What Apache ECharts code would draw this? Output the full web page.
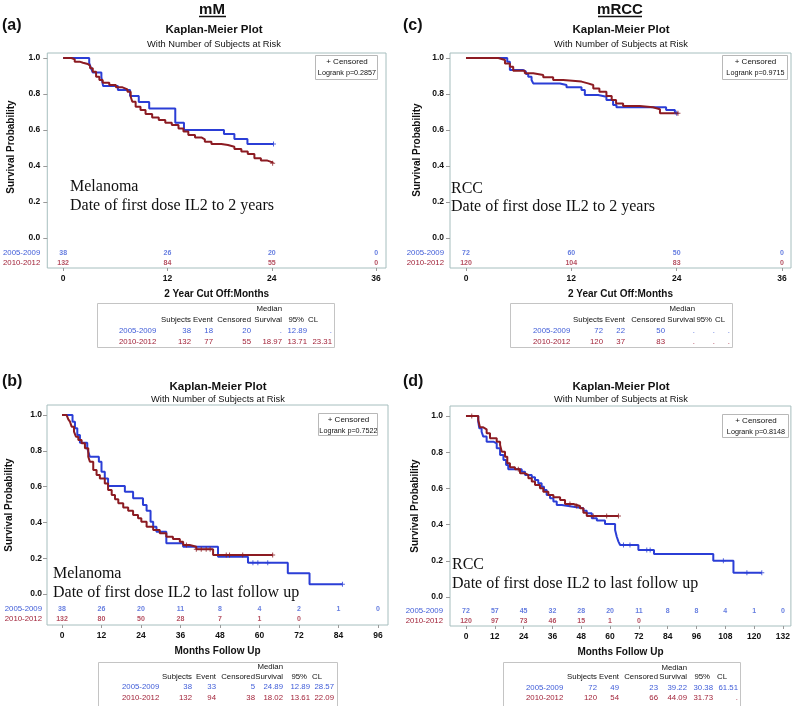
<!DOCTYPE html>
<html><head><meta charset="utf-8">
<script src="https://cdn.jsdelivr.net/npm/echarts@6/dist/echarts.min.js"></script>
<style>html,body{margin:0;padding:0;background:#fff}#c{width:793px;height:706px}</style>
</head><body><div id="c"></div>
<script>
// ---------------- DATA ----------------
const groups = ['2005-2009', '2010-2012'];
const yTicks = [0, 0.2, 0.4, 0.6, 0.8, 1.0];
const ticks2y = [0, 12, 24, 36];
const ticksB = [0, 12, 24, 36, 48, 60, 72, 84, 96];
const ticksD = [0, 12, 24, 36, 48, 60, 72, 84, 96, 108, 120, 132];

// (a) Melanoma, 2 years
const aBlue = [[0,1],[3.0,0.972],[3.2,0.945],[3.4,0.92],[4.4,0.894],[4.6,0.844],[6.3,0.822],[7.7,0.789],[8.7,0.756],[9.9,0.72],[12.9,0.64],[13.9,0.60],[18.5,0.578],[19.7,0.55],[21.2,0.522],[24.2,0.522]];
const aRed = [[0,1],[0.95,0.993],[1.33,0.98],[1.9,0.974],[2.28,0.967],[2.84,0.957],[3.1,0.943],[3.41,0.924],[3.79,0.896],[4.17,0.878],[4.55,0.863],[5.31,0.85],[6.07,0.837],[6.83,0.826],[7.4,0.813],[7.77,0.785],[7.96,0.757],[8.34,0.729],[8.9,0.711],[9.48,0.689],[10.24,0.67],[11.0,0.656],[11.75,0.641],[12.5,0.628],[13.27,0.609],[13.84,0.591],[14.4,0.572],[15.17,0.559],[15.9,0.548],[16.3,0.535],[17.06,0.522],[18.2,0.517],[18.96,0.507],[19.7,0.494],[20.5,0.48],[21.24,0.467],[22.0,0.443],[22.75,0.43],[23.5,0.42],[24.1,0.415]];
const aBlueCens = [[24.2,0.522]];
const aRedCens = [[24.1,0.415]];
const aRiskBlue = [38, 26, 20, 0];
const aRiskRed = [132, 84, 55, 0];
const aLogrank = 'Logrank p=0.2857';
const aTable = [['2005-2009', '38', '18', '20', '.', '12.89', '.'], ['2010-2012', '132', '77', '55', '18.97', '13.71', '23.31']];

// (b) Melanoma, last follow up
const bBlue = [[0,1],[3.2,0.963],[3.94,0.926],[4.65,0.888],[5.45,0.845],[7.67,0.814],[7.98,0.795],[8.48,0.767],[11.2,0.739],[12.0,0.683],[13.0,0.646],[14.0,0.603],[19.1,0.572],[21.6,0.535],[24.6,0.497],[25.7,0.465],[26.9,0.404],[27.7,0.376],[28.7,0.348],[31.7,0.283],[36.8,0.264],[47.4,0.208],[56.5,0.175],[68.6,0.116],[75.2,0.054],[85.2,0.054]];
const bRed = [[0,1],[1.41,0.991],[1.92,0.976],[2.42,0.963],[2.93,0.935],[3.64,0.907],[4.24,0.879],[4.95,0.86],[5.96,0.842],[6.97,0.814],[7.98,0.767],[8.48,0.739],[9.49,0.693],[10.5,0.665],[11.5,0.646],[13.0,0.618],[14.0,0.581],[15.1,0.553],[16.1,0.529],[17.1,0.507],[18.6,0.484],[20.1,0.465],[21.6,0.441],[23.1,0.423],[24.1,0.404],[25.7,0.376],[27.7,0.358],[29.7,0.339],[31.7,0.32],[33.7,0.307],[35.8,0.292],[36.8,0.274],[38.8,0.264],[40.8,0.25],[45.9,0.218],[64.0,0.218]];
const bBlueCens = [[58,0.175],[59.5,0.175],[62.5,0.175],[85.2,0.054]];
const bRedCens = [[37.8,0.274],[40.8,0.25],[42.3,0.25],[43.8,0.25],[45.0,0.25],[49.9,0.218],[50.9,0.218],[54.9,0.218],[64.0,0.218]];
const bRiskBlue = [38, 26, 20, 11, 8, 4, 2, 1, 0];
const bRiskRed = [132, 80, 50, 28, 7, 1, 0];
const bLogrank = 'Logrank p=0.7522';
const bTable = [['2005-2009', '38', '33', '5', '24.89', '12.89', '28.57'], ['2010-2012', '132', '94', '38', '18.02', '13.61', '22.09']];

// (c) RCC, 2 years
const cBlue = [[0,1],[4.7,0.98],[5.0,0.933],[6.52,0.924],[6.83,0.911],[7.09,0.896],[7.47,0.878],[7.66,0.859],[10.7,0.85],[11.45,0.837],[13.16,0.822],[13.54,0.794],[15.05,0.785],[16.0,0.767],[16.76,0.739],[17.14,0.726],[22.8,0.711],[23.8,0.693],[24.0,0.693]];
const cRed = [[0,1],[3.68,0.989],[4.44,0.97],[5.0,0.952],[5.38,0.93],[6.7,0.915],[7.66,0.906],[8.8,0.893],[9.93,0.878],[11.07,0.869],[13.16,0.859],[13.9,0.85],[14.5,0.831],[15.2,0.813],[16.0,0.789],[16.6,0.767],[17.1,0.748],[17.9,0.733],[19.8,0.726],[21.3,0.715],[22.1,0.693],[24.15,0.693]];
const cBlueCens = [[24.0,0.693]];
const cRedCens = [[24.15,0.693]];
const cRiskBlue = [72, 60, 50, 0];
const cRiskRed = [120, 104, 83, 0];
const cLogrank = 'Logrank p=0.9715';
const cTable = [['2005-2009', '72', '22', '50', '.', '.', '.'], ['2010-2012', '120', '37', '83', '.', '.', '.']];

// (d) RCC, last follow up
const dBlue = [[0,1],[5.1,0.969],[5.55,0.932],[6.5,0.913],[7.2,0.886],[8.6,0.858],[11.4,0.849],[12.8,0.821],[14.2,0.785],[15.6,0.757],[16.7,0.729],[17.6,0.705],[23.2,0.692],[24.6,0.674],[27.4,0.661],[28.75,0.646],[30.1,0.628],[31.5,0.609],[32.5,0.591],[33.6,0.564],[35.0,0.545],[36.4,0.527],[37.8,0.508],[39.9,0.499],[44.7,0.49],[48.9,0.477],[50.3,0.462],[52.4,0.435],[54.5,0.422],[57.9,0.403],[62.1,0.37],[62.8,0.333],[63.5,0.306],[64.2,0.287],[71.8,0.26],[78.3,0.238],[103.0,0.201],[111.4,0.134],[123.2,0.134]];
const dRed = [[0,1],[5.1,0.978],[5.83,0.937],[7.2,0.926],[8.6,0.904],[10.0,0.877],[12.8,0.858],[14.2,0.84],[14.9,0.803],[16.25,0.775],[17.2,0.739],[18.3,0.717],[20.4,0.705],[22.5,0.683],[24.6,0.674],[25.97,0.656],[27.4,0.638],[28.75,0.619],[30.8,0.601],[32.2,0.582],[34.3,0.564],[36.4,0.551],[39.2,0.536],[41.25,0.514],[44.7,0.503],[47.5,0.49],[48.9,0.466],[50.3,0.448],[63.5,0.448]];
const dBlueCens = [[65.6,0.287],[68.3,0.287],[75.3,0.26],[76.7,0.26],[107.2,0.201],[117.0,0.134],[123.2,0.134]];
const dRedCens = [[2.4,1.0],[21.8,0.705],[43.3,0.514],[46.1,0.503],[53.0,0.448],[58.6,0.448],[63.5,0.448]];
const dRiskBlue = [72, 57, 45, 32, 28, 20, 11, 8, 8, 4, 1, 0];
const dRiskRed = [120, 97, 73, 46, 15, 1, 0];
const dLogrank = 'Logrank p=0.8148';
const dTable = [['2005-2009', '72', '49', '23', '39.22', '30.38', '61.51'], ['2010-2012', '120', '54', '66', '44.09', '31.73', '.']];

// ---------------- STYLE / LAYOUT ----------------
const SANS = '"Liberation Sans", Arial, sans-serif';
const SERIF = '"Liberation Serif", "Times New Roman", serif';
const BLUE = '#2b3ed6', RED = '#8c1b22', BLUE_T = '#3f5cd8', RED_T = '#a2243a';
const FRAME = '#a6bebe';
const PLUS = 'path://M4,0H6V4H10V6H6V10H4V6H0V4H4Z';

const panels = [
  { lab: '(a)', labPos: [2, 26], kmX: 214, kmY: 30, subY: 44,
    grid: { left: 44, top: 53, width: 342, height: 215 }, xr: [-1.823, 37.14], yr: [-0.167, 1.028],
    rows: [-0.083, -0.139], ticks: ticks2y, xName: '2 Year Cut Off:Months',
    blue: aBlue, red: aRed, bc: aBlueCens, rc: aRedCens, rb: aRiskBlue, rr: aRiskRed,
    ytX: 11, ytY: 147, lblMargin: 7,
    legend: [315, 55, 62, 24], logrank: aLogrank,
    ann: ['Melanoma', 'Date of first dose IL2 to 2 years'], annX: 70, annY: [187, 206],
    table: aTable, tbox: [97, 303, 237, 44], tRowY: [309, 320, 331, 342],
    cols: [22, 94, 116, 154, 185, 210, 235, 207, 211] },
  { lab: '(b)', labPos: [2, 382], kmX: 218, kmY: 387, subY: 399,
    grid: { left: 47, top: 405, width: 341, height: 220 }, xr: [-4.557, 99.04], yr: [-0.173, 1.056],
    rows: [-0.084, -0.140], ticks: ticksB, xName: 'Months Follow Up',
    blue: bBlue, red: bRed, bc: bBlueCens, rc: bRedCens, rb: bRiskBlue, rr: bRiskRed,
    ytX: 9, ytY: 505, lblMargin: 5,
    legend: [318, 413, 59, 22], logrank: bLogrank,
    ann: ['Melanoma', 'Date of first dose IL2 to last follow up'], annX: 53, annY: [574, 593],
    table: bTable, tbox: [98, 662, 239, 46], tRowY: [667, 677, 687, 698],
    cols: [24, 94, 118, 157, 185, 212, 236, 209, 214] },
  { lab: '(c)', labPos: [403, 26], kmX: 621, kmY: 30, subY: 44,
    grid: { left: 450, top: 53, width: 341, height: 215 }, xr: [-1.823, 37.03], yr: [-0.167, 1.028],
    rows: [-0.083, -0.139], ticks: ticks2y, xName: '2 Year Cut Off:Months',
    blue: cBlue, red: cRed, bc: cBlueCens, rc: cRedCens, rb: cRiskBlue, rr: cRiskRed,
    ytX: 417, ytY: 150, lblMargin: 6,
    legend: [722, 55, 65, 24], logrank: cLogrank,
    ann: ['RCC', 'Date of first dose IL2 to 2 years'], annX: 451, annY: [189, 207],
    table: cTable, tbox: [510, 303, 222, 44], tRowY: [309, 320, 331, 342],
    cols: [23, 93, 115, 155, 185, 205, 220, 202, 205] },
  { lab: '(d)', labPos: [403, 382], kmX: 621, kmY: 387, subY: 399,
    grid: { left: 450, top: 406, width: 341, height: 220 }, xr: [-6.66, 135.33], yr: [-0.160, 1.055],
    rows: [-0.077, -0.133], ticks: ticksD, xName: 'Months Follow Up',
    blue: dBlue, red: dRed, bc: dBlueCens, rc: dRedCens, rb: dRiskBlue, rr: dRiskRed,
    ytX: 415, ytY: 506, lblMargin: 7,
    legend: [722, 414, 66, 23], logrank: dLogrank,
    ann: ['RCC', 'Date of first dose IL2 to last follow up'], annX: 452, annY: [565, 584],
    table: dTable, tbox: [503, 662, 237, 46], tRowY: [668, 677, 688, 698],
    cols: [23, 94, 116, 155, 184, 210, 235, 207, 214] }
];

const grid = [], xAxis = [], yAxis = [], series = [], graphic = [];

function txt(text, x, y, o, extra) {
  return Object.assign({ type: 'text', silent: true, x, y,
    style: Object.assign({ text, x: 0, y: 0, align: 'left', verticalAlign: 'middle', fill: '#111', font: '7.8px ' + SANS }, o || {}) }, extra || {});
}

// headings
graphic.push(txt('mM', 212, 10, { align: 'center', font: 'bold 15px ' + SANS }));
graphic.push({ type: 'line', silent: true, shape: { x1: 199, y1: 16.5, x2: 226, y2: 16.5 }, style: { stroke: '#111', lineWidth: 1.5 } });
graphic.push(txt('mRCC', 620, 10, { align: 'center', font: 'bold 15px ' + SANS }));
graphic.push({ type: 'line', silent: true, shape: { x1: 598, y1: 16.5, x2: 642, y2: 16.5 }, style: { stroke: '#111', lineWidth: 1.5 } });

panels.forEach((p, i) => {
  grid.push(Object.assign({ show: true, borderColor: FRAME, borderWidth: 1, backgroundColor: '#fff' }, p.grid));
  xAxis.push({
    type: 'value', gridIndex: i, min: p.xr[0], max: p.xr[1],
    name: p.xName, nameLocation: 'middle', nameGap: 21,
    nameTextStyle: { fontFamily: SANS, fontWeight: 'bold', fontSize: 10, color: '#111' },
    axisLine: { show: false, onZero: false }, splitLine: { show: false },
    axisTick: { show: true, customValues: p.ticks, length: 3, lineStyle: { color: '#999' } },
    axisLabel: { customValues: p.ticks, margin: 6, fontFamily: SANS, fontWeight: 'bold', fontSize: 8.5, color: '#111' }
  });
  yAxis.push({
    type: 'value', gridIndex: i, min: p.yr[0], max: p.yr[1], position: 'left',
    axisLine: { show: false, onZero: false }, splitLine: { show: false },
    axisTick: { show: true, customValues: yTicks, length: 4, lineStyle: { color: '#999' } },
    axisLabel: { customValues: yTicks, margin: p.lblMargin, formatter: v => v.toFixed(1), fontFamily: SANS, fontWeight: 'bold', fontSize: 8.5, color: '#111' }
  });
  yAxis.push({
    type: 'value', gridIndex: i, min: p.yr[0], max: p.yr[1], position: 'left',
    axisLine: { show: false, onZero: false }, splitLine: { show: false }, axisTick: { show: false },
    axisLabel: {
      customValues: p.rows, margin: p.lblMargin,
      formatter: v => Math.abs(v - p.rows[0]) < 1e-6 ? '{b|' + groups[0] + '}' : '{r|' + groups[1] + '}',
      rich: { b: { color: BLUE_T, fontFamily: SANS, fontSize: 7.8 }, r: { color: RED_T, fontFamily: SANS, fontSize: 7.8 } }
    }
  });
  const yi = i * 2;
  const line = (data, color) => ({ type: 'line', xAxisIndex: i, yAxisIndex: yi, data, step: 'end', showSymbol: false, symbol: 'none', silent: true,
    lineStyle: { color, width: 2 }, z: color === BLUE ? 3 : 4 });
  const cens = (data, color) => ({ type: 'scatter', xAxisIndex: i, yAxisIndex: yi, data, symbol: PLUS, symbolSize: 5, silent: true,
    itemStyle: { color }, z: 5 });
  const risk = (vals, rowY, color) => ({
    type: 'scatter', xAxisIndex: i, yAxisIndex: yi, symbolSize: 1, silent: true,
    data: vals.map((n, k) => [p.ticks[k], rowY, n]),
    itemStyle: { color: 'rgba(0,0,0,0)' },
    label: { show: true, position: 'inside', formatter: q => String(q.value[2]), fontFamily: SANS, fontWeight: 'bold', fontSize: 7, color }
  });
  series.push(line(p.blue, BLUE), line(p.red, RED), cens(p.bc, BLUE), cens(p.rc, RED),
    risk(p.rb, p.rows[0], BLUE_T), risk(p.rr, p.rows[1], RED_T));

  // panel labels & titles
  graphic.push(txt(p.lab, p.labPos[0], p.labPos[1], { font: 'bold 16px ' + SANS }));
  graphic.push(txt('Kaplan-Meier Plot', p.kmX, p.kmY, { align: 'center', font: 'bold 11.5px ' + SANS }));
  graphic.push(txt('With Number of Subjects at Risk', p.kmX, p.subY, { align: 'center', font: '9.3px ' + SANS }));
  graphic.push(txt('Survival Probability', p.ytX, p.ytY, { align: 'center', font: 'bold 10px ' + SANS }, { rotation: Math.PI / 2 }));
  // legend box
  const L = p.legend;
  graphic.push({ type: 'rect', silent: true, shape: { x: L[0] + 0.5, y: L[1] + 0.5, width: L[2], height: L[3] }, style: { fill: '#fff', stroke: '#b8b8b8', lineWidth: 1 }, z: 10 });
  graphic.push(txt('+ Censored', L[0] + L[2] / 2 + 1, L[1] + 7, { align: 'center', font: '8px ' + SANS }, { z: 11 }));
  graphic.push(txt(p.logrank, L[0] + L[2] / 2 + 1, L[1] + 17.5, { align: 'center', font: '8px ' + SANS }, { z: 11, scaleX: 0.9 }));
  // annotation
  graphic.push(txt(p.ann[0], p.annX, p.annY[0], { font: '16px ' + SERIF }, { z: 11 }));
  graphic.push(txt(p.ann[1], p.annX, p.annY[1], { font: '16px ' + SERIF }, { z: 11 }));
  // table
  const T = p.tbox, c = p.cols, ry = p.tRowY;
  graphic.push({ type: 'rect', silent: true, shape: { x: T[0] + 0.5, y: T[1] + 0.5, width: T[2], height: T[3] }, style: { fill: '#fff', stroke: '#c4c4c4', lineWidth: 1 } });
  graphic.push(txt('Median', T[0] + c[4], ry[0], { align: 'right' }));
  [['Subjects', c[1]], ['Event', c[2]], ['Censored', c[3]], ['Survival', c[4]], ['95%', c[7]]].forEach(h =>
    graphic.push(txt(h[0], T[0] + h[1], ry[1], { align: 'right' })));
  graphic.push(txt('CL', T[0] + c[8], ry[1], { align: 'left' }));
  p.table.forEach((row, r) => {
    const col = r === 0 ? BLUE_T : RED_T;
    graphic.push(txt(row[0], T[0] + c[0], ry[2 + r], { fill: col }));
    for (let k = 1; k <= 6; k++) graphic.push(txt(row[k], T[0] + c[k], ry[2 + r], { align: 'right', fill: col }));
  });
});

const chart = echarts.init(document.getElementById('c'), null, { renderer: 'canvas' });
chart.setOption({ animation: false, backgroundColor: '#fff', grid, xAxis, yAxis, series, graphic });
</script>
</body></html>
